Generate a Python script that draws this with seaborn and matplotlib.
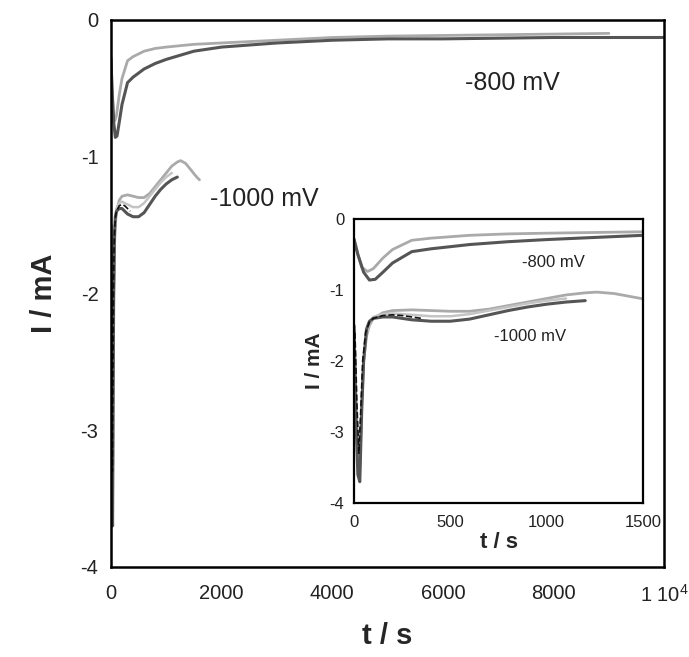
import numpy as np
import pandas as pd
import matplotlib
matplotlib.use("Agg")
import matplotlib.pyplot as plt
import seaborn as sns

sns.set_theme(style="white")
plt.rcParams['font.family'] = ['Liberation Sans', 'DejaVu Sans']
plt.rcParams['axes.unicode_minus'] = False
plt.rcParams['mathtext.fontset'] = 'custom'
plt.rcParams['mathtext.rm'] = 'Liberation Sans'
plt.rcParams['mathtext.default'] = 'regular'

# ---- data: -800 mV ----
t800_dark = [0, 20, 50, 80, 110, 150, 200, 300, 400, 600, 800, 1000, 1500, 2000, 3000,
             4000, 5000, 6000, 7000, 8000, 9000, 10000]
i800_dark = [-0.28, -0.5, -0.75, -0.86, -0.85, -0.75, -0.62, -0.46, -0.42, -0.36, -0.32,
             -0.29, -0.23, -0.2, -0.17, -0.15, -0.14, -0.14, -0.135, -0.13, -0.13, -0.13]
t800_light = [0, 20, 40, 70, 100, 150, 200, 300, 400, 600, 800, 1000, 1500, 2000, 3000,
              4000, 5000, 6000, 7000, 8000, 9000]
i800_light = [-0.3, -0.5, -0.68, -0.74, -0.7, -0.55, -0.43, -0.3, -0.27, -0.23, -0.21,
              -0.2, -0.18, -0.17, -0.15, -0.13, -0.12, -0.115, -0.11, -0.105, -0.1]

# ---- data: -1000 mV ----
t1000_light = [0, 10, 20, 30, 40, 50, 65, 80, 100, 150, 200, 300, 400, 500, 600, 700, 800,
               900, 1000, 1100, 1200, 1260, 1350, 1450, 1550, 1600]
i1000_light = [-1.5, -2.5, -3.3, -3.5, -2.6, -2.0, -1.65, -1.5, -1.4, -1.32, -1.29, -1.28,
               -1.29, -1.3, -1.3, -1.27, -1.22, -1.17, -1.12, -1.07, -1.04, -1.03, -1.05,
               -1.1, -1.15, -1.17]
t1000_mid = [0, 10, 20, 30, 40, 50, 65, 80, 100, 150, 200, 300, 400, 500, 600, 700, 800,
             900, 1000, 1100]
i1000_mid = [-1.5, -2.6, -3.4, -3.6, -2.6, -2.0, -1.6, -1.48, -1.38, -1.34, -1.33, -1.35,
             -1.37, -1.37, -1.34, -1.29, -1.24, -1.19, -1.15, -1.12]
t1000_dark = [0, 10, 20, 30, 40, 50, 65, 80, 100, 150, 200, 300, 400, 500, 600, 700, 800,
              900, 1000, 1100, 1200]
i1000_dark = [-1.5, -2.8, -3.6, -3.7, -2.7, -2.0, -1.55, -1.44, -1.4, -1.38, -1.38, -1.42,
              -1.44, -1.44, -1.41, -1.35, -1.29, -1.24, -1.2, -1.17, -1.15]
t1000_dash = [5, 15, 25, 35, 45, 60, 80, 100, 150, 200, 250, 300, 350]
i1000_dash = [-1.6, -2.6, -3.3, -2.7, -2.0, -1.6, -1.45, -1.4, -1.36, -1.35, -1.36, -1.38,
              -1.4]

main_xticks = [0, 2000, 4000, 6000, 8000, 10000]
main_xticklabels = ["0", "2000", "4000", "6000", "8000", "1 10$^{4}$"]
main_yticks = [0, -1, -2, -3, -4]
inset_xticks = [0, 500, 1000, 1500]

DARK = "#555555"
LIGHT = "#aaaaaa"
MID = "#c4c4c4"

series = [
    (t800_light, i800_light, LIGHT, 2.0, "-"),
    (t800_dark, i800_dark, DARK, 2.2, "-"),
    (t1000_light, i1000_light, LIGHT, 2.0, "-"),
    (t1000_mid, i1000_mid, MID, 1.8, "-"),
    (t1000_dark, i1000_dark, DARK, 2.2, "-"),
    (t1000_dash, i1000_dash, "#111111", 1.2, "--"),
]


def draw(ax):
    for t, i, c, lw, ls in series:
        sns.lineplot(x=t, y=i, ax=ax, color=c, linewidth=lw, linestyle=ls,
                     sort=False, estimator=None)


fig = plt.figure(figsize=(6.89, 6.57), dpi=100)
ax = fig.add_axes([0.161, 0.137, 0.803, 0.833])
draw(ax)
ax.set_xlim(0, 10000)
ax.set_ylim(-4, 0)
ax.set_xticks(main_xticks)
ax.set_xticklabels(main_xticklabels)
ax.set_yticks(main_yticks)
ax.set_yticklabels([str(v) for v in main_yticks])
ax.tick_params(direction="in", length=7, width=1.6, labelsize=14.5, pad=9,
               colors="black", labelcolor="#222222")
ax.tick_params(axis="x", pad=12)
for s in ax.spines.values():
    s.set_linewidth(1.8)
    s.set_color("black")
ax.set_xlabel("t / s", fontsize=21, fontweight="bold", labelpad=12)
ax.set_ylabel("I / mA", fontsize=21, fontweight="bold", labelpad=16)
ax.text(7251, -0.46, "-800 mV", fontsize=18, ha="center", va="center", color="#222222")
ax.text(2767, -1.31, "-1000 mV", fontsize=18, ha="center", va="center", color="#222222")

# inset
ins = fig.add_axes([0.5138, 0.2344, 0.4195, 0.4323])
draw(ins)
ins.set_xlim(0, 1500)
ins.set_ylim(-4, 0)
ins.set_xticks(inset_xticks)
ins.set_yticks(main_yticks)
ins.set_yticklabels([str(v) for v in main_yticks])
ins.tick_params(direction="in", length=5, width=1.4, labelsize=12, pad=7,
                colors="black", labelcolor="#222222")
ins.tick_params(axis="x", pad=9)
for s in ins.spines.values():
    s.set_linewidth(1.6)
    s.set_color("black")
ins.set_xlabel("t / s", fontsize=16, fontweight="bold", labelpad=1)
ins.set_ylabel("I / mA", fontsize=15, fontweight="bold", labelpad=4)
ins.text(1033, -0.61, "-800 mV", fontsize=12, ha="center", va="center", color="#222222")
ins.text(913, -1.66, "-1000 mV", fontsize=12, ha="center", va="center", color="#222222")

fig.savefig("out.png", dpi=100)
